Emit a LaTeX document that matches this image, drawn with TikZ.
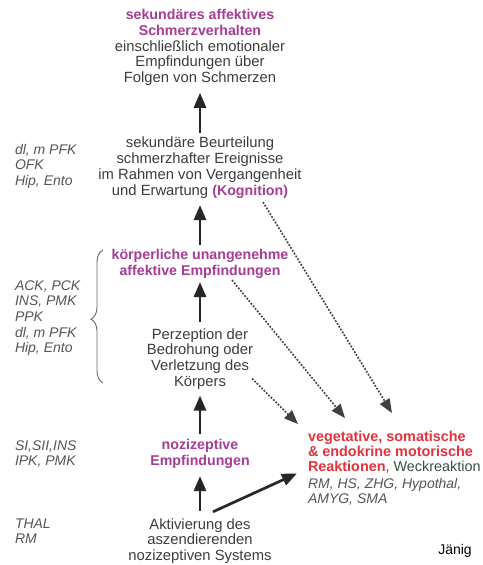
\documentclass[tikz,border=0pt]{standalone}
\usepackage{fontspec}
\setmainfont{Liberation Sans}
\usetikzlibrary{arrows.meta,calc,decorations.pathreplacing}
\definecolor{txt}{RGB}{60,60,60}
\definecolor{lbl}{RGB}{85,85,85}
\definecolor{purp}{RGB}{165,60,150}
\definecolor{redc}{RGB}{228,50,60}
\definecolor{weck}{RGB}{55,80,65}
\begin{document}
\begin{tikzpicture}[x=1pt,y=-1pt,
  every node/.style={inner sep=0pt, outer sep=0pt},
  main/.style={align=center, text=txt, font=\fontsize{14.8}{15.8}\selectfont},
  hl/.style={align=center, text=purp, font=\fontsize{14.2}{15.8}\selectfont\bfseries},
  lab/.style={anchor=west, align=left, text=lbl, font=\fontsize{14}{15.6}\selectfont\itshape},
  arr/.style={draw=black!85, line width=2.7pt, -{Triangle[length=15pt,width=12pt]}},
  dots/.style={draw=black!75, line width=1.6pt, dash pattern=on 1.8pt off 1.5pt, -{Triangle[length=14pt,width=11pt]}}
]
\path[use as bounding box, clip] (0,0) rectangle (482,565);
\fill[white] (0,0) rectangle (482,565);

\node[main] (top) at (200,47.5) {\textcolor{purp}{\bfseries\fontsize{14.2}{15.8}\selectfont sekundäres affektives}\\ \textcolor{purp}{\bfseries\fontsize{14.2}{15.8}\selectfont Schmerzverhalten}\\ einschließlich emotionaler\\ Empfindungen über\\ Folgen von Schmerzen};
\node[main] (beur) at (200,167.5) {sekundäre Beurteilung\\ schmerzhafter Ereignisse\\ im Rahmen von Vergangenheit\\ und Erwartung {\color{purp}\bfseries\fontsize{14.2}{15.8}\selectfont(Kognition)}};
\node[hl] (koerp) at (200,263.5) {körperliche unangenehme\\ affektive Empfindungen};
\node[main] (perz) at (200,359) {Perzeption der\\ Bedrohung oder\\ Verletzung des\\ Körpers};
\node[hl] (nozi) at (200,454) {nozizeptive\\ Empfindungen};
\node[main] (aktiv) at (200,541) {Aktivierung des\\ aszendierenden\\ nozizeptiven Systems};
\node[anchor=west, align=left, text=redc, font=\fontsize{14.4}{15.3}\selectfont\bfseries] (veg) at (308,452) {vegetative, somatische\\ \& endokrine motorische\\ Reaktionen{\mdseries\color{weck}, Weckreaktion}};
\node[lab] (regs) at (308,492) {RM, HS, ZHG, Hypothal,\\ AMYG, SMA};
\node[lab] (l1) at (15,166) {dl, m PFK\\ OFK\\ Hip, Ento};
\node[lab] (l2) at (15,318) {ACK, PCK\\ INS, PMK\\ PPK\\ dl, m PFK\\ Hip, Ento};
\node[lab] (l3) at (15,454) {SI,SII,INS\\ IPK, PMK};
\node[lab] (l4) at (15,531) {THAL\\ RM};
\node[text=black, font=\fontsize{14}{15}\selectfont] (jaenig) at (455,551) {Jänig};

\draw[arr, shorten <=4pt, shorten >=7pt] (beur.north) -- (top.south);
\draw[arr, shorten <=4pt, shorten >=7pt] (koerp.north) -- (beur.south);
\draw[arr, shorten <=6.5pt, shorten >=4pt] (perz.north) -- (koerp.south);
\draw[arr, shorten <=5.5pt, shorten >=6pt] (nozi.north) -- (perz.south);
\draw[arr, shorten <=7.5pt, shorten >=7.5pt] (aktiv.north) -- (nozi.south);
\draw[arr] ($(aktiv.north)+(13,-6.5)$) -- ($(veg.south west)+(-11,0)$);

\draw[dots] ($(beur.south)+(63,4)$) -- ($(veg.north west)+(84,-17.5)$);
\draw[dots] ($(koerp.south)+(32,2)$) -- ($(veg.north west)+(37,-12.5)$);
\draw[dots] ($(perz.south)+(52,-11)$) -- ($(veg.north west)+(-10,-6.5)$);

\draw[decorate, decoration={brace, amplitude=12pt, aspect=0.48}, draw=black!60, line width=0.9pt] (103,383) -- (103,250);
\end{tikzpicture}
\end{document}
